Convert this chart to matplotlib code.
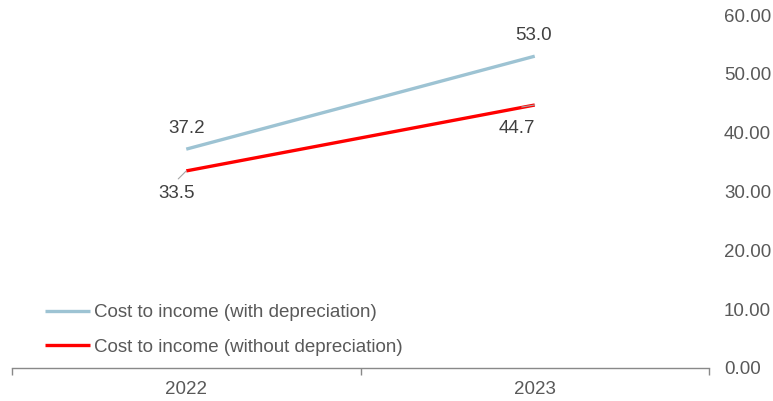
import matplotlib
matplotlib.use("Agg")
import matplotlib.pyplot as plt

categories = ["2022", "2023"]
with_dep = [37.2, 53.0]
without_dep = [33.5, 44.7]
series_names = ["Cost to income (with depreciation)", "Cost to income (without depreciation)"]
yticks = [0, 10, 20, 30, 40, 50, 60]

plt.rcParams['font.family'] = ['Liberation Sans', 'DejaVu Sans']

fig = plt.figure(figsize=(7.73, 4.01), dpi=100)
ax = fig.add_axes([12/773, (401-368)/401, (709-12)/773, (368-15)/401])

x = list(range(len(categories)))
blue = "#9dc3d3"
red = "#ff0000"
ax.plot(x, with_dep, color=blue, lw=2.4, solid_capstyle='butt', label=series_names[0])
ax.plot(x, without_dep, color=red, lw=2.4, solid_capstyle='butt', label=series_names[1])

ax.set_xlim(-0.5, len(categories) - 0.5)
ax.set_ylim(0, 60)

for s in ["left", "top", "right"]:
    ax.spines[s].set_visible(False)
ax.spines["bottom"].set_color("#898989")
ax.spines["bottom"].set_linewidth(1.0)

fs = 13.5
ax.set_xticks(x)
ax.set_xticklabels(categories)
ax.set_xticks([i - 0.5 for i in range(len(categories) + 1)], minor=True)
ax.tick_params(axis='x', which='major', length=0, pad=9, labelsize=fs, labelcolor="#595959")
ax.tick_params(axis='x', which='minor', length=5, color="#898989", width=1.0, direction='out')

ax.yaxis.tick_right()
ax.set_yticks(yticks)
ax.set_yticklabels([f"{v:.2f}" for v in yticks])
ax.tick_params(axis='y', length=0, pad=10.8, labelsize=fs, labelcolor="#595959")

tc = "#404040"
px = 0.72  # points per pixel at 100 dpi
def label(val, xi, dx, dy):
    ax.annotate(f"{val:.1f}", (xi, val), xytext=(dx * px, dy * px), textcoords='offset points',
                ha='center', va='center', fontsize=fs, color=tc)

def leader(val, xi, dx, dy):
    ax.annotate("", (xi, val), xytext=(dx * px, dy * px), textcoords='offset points',
                arrowprops=dict(arrowstyle='-', color='#a6a6a6', lw=0.8, shrinkA=0, shrinkB=0))

label(with_dep[0], x[0], 0, 21)
label(with_dep[1], x[1], -1, 21)
label(without_dep[0], x[0], -10, -23)
label(without_dep[1], x[1], -18, -23)
leader(without_dep[0], x[0], -8, -8)
leader(without_dep[1], x[1], -13, -2)

leg = fig.legend(loc='center left', bbox_to_anchor=(45/773, 1 - 330/401), frameon=False, fontsize=fs,
                 handlelength=2.4, handletextpad=0.22, labelspacing=0.92, borderpad=0, borderaxespad=0)
for t in leg.get_texts():
    t.set_color("#595959")

fig.savefig("out.png", dpi=100)
